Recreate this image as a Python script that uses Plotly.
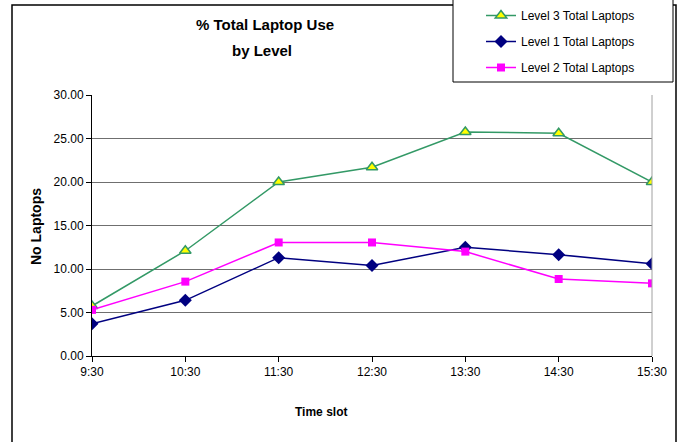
import plotly.graph_objects as go

time_slots = ["9:30", "10:30", "11:30", "12:30", "13:30", "14:30", "15:30"]
level3 = [5.75, 12.1, 20.0, 21.7, 25.75, 25.6, 20.0]
level1 = [3.7, 6.4, 11.3, 10.4, 12.5, 11.65, 10.6]
level2 = [5.3, 8.55, 13.05, 13.05, 12.0, 8.85, 8.35]
y_ticks = [0, 5, 10, 15, 20, 25, 30]

W, H = 682, 442
L, R, T, B = 92, 652, 95, 356


def px(x):
    return (x - L) / (R - L)


def py(y):
    return (B - y) / (B - T)


fig = go.Figure()
fig.add_trace(go.Scatter(
    x=time_slots, y=level3, name="Level 3 Total Laptops", mode="lines+markers",
    line=dict(color="#339966", width=1.5),
    marker=dict(symbol="triangle-up", size=10, color="#FFFF00",
                line=dict(color="#339966", width=1.5)),
    legendgroup="g3", legendrank=1))
fig.add_trace(go.Scatter(
    x=time_slots, y=level1, name="Level 1 Total Laptops", mode="lines+markers",
    line=dict(color="#000080", width=1.5),
    marker=dict(symbol="diamond", size=10, color="#000080"),
    legendgroup="g1", legendrank=2))
fig.add_trace(go.Scatter(
    x=time_slots, y=level2, name="Level 2 Total Laptops", mode="lines+markers",
    line=dict(color="#FF00FF", width=1.5),
    marker=dict(symbol="square", size=8, color="#FF00FF"),
    legendgroup="g2", legendrank=3))

fig.update_layout(
    width=W, height=H,
    margin=dict(l=L, r=W - R, t=T, b=H - B, pad=0, autoexpand=False),
    paper_bgcolor="white", plot_bgcolor="white",
    font=dict(family="Liberation Sans, Arial, sans-serif", size=12, color="black"),
    showlegend=True,
    legend=dict(x=px(481), y=py(1), xanchor="left", yanchor="top",
                bgcolor="rgba(0,0,0,0)", borderwidth=0,
                traceorder="grouped", tracegroupgap=7,
                font=dict(size=12)),
    xaxis=dict(type="category", range=[0, 6], showgrid=False,
               showline=True, linecolor="black", linewidth=1,
               ticks="outside", ticklen=5, tickcolor="black",
               tickfont=dict(size=12), zeroline=False),
    yaxis=dict(range=[0, 30], tickvals=y_ticks, tickformat=".2f",
               showgrid=True, gridcolor="#6f6f6f", gridwidth=1,
               showline=True, linecolor="black", linewidth=1,
               ticks="outside", ticklen=5, tickcolor="black",
               tickfont=dict(size=12), zeroline=False),
    shapes=[
        dict(type="rect", xref="paper", yref="paper",
             x0=px(12), x1=px(676), y0=py(460), y1=py(5),
             line=dict(color="black", width=1.5), layer="below"),
        dict(type="line", xref="paper", yref="paper",
             x0=1, x1=1, y0=0, y1=1,
             line=dict(color="#a0a0a0", width=1)),
        dict(type="rect", xref="paper", yref="paper",
             x0=px(453), x1=px(673), y0=py(82), y1=py(-4),
             line=dict(color="black", width=1), fillcolor="white", layer="above"),
    ],
    annotations=[
        dict(text="<b>% Total Laptop Use</b>", xref="paper", yref="paper",
             x=px(265), y=py(25), xanchor="center", yanchor="middle",
             showarrow=False, font=dict(size=15)),
        dict(text="<b>by Level</b>", xref="paper", yref="paper",
             x=px(262), y=py(50), xanchor="center", yanchor="middle",
             showarrow=False, font=dict(size=15)),
        dict(text="<b>Time slot</b>", xref="paper", yref="paper",
             x=px(321), y=py(412), xanchor="center", yanchor="middle",
             showarrow=False, font=dict(size=12)),
        dict(text="<b>No Laptops</b>", xref="paper", yref="paper",
             x=px(36), y=py(227), xanchor="center", yanchor="middle",
             textangle=-90, showarrow=False, font=dict(size=14)),
    ],
)

fig.write_html("out.html", config={"displayModeBar": False},
               post_script="document.body.style.margin='0';document.body.style.overflow='hidden';")
